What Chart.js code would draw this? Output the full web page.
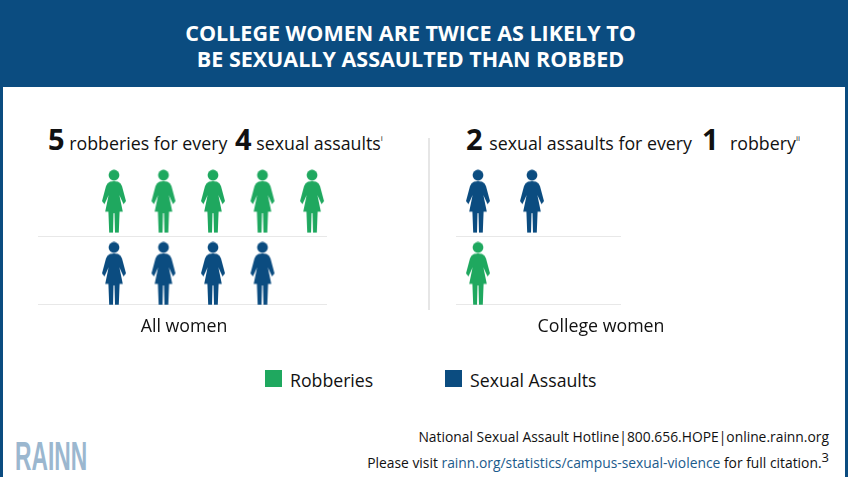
<!DOCTYPE html>
<html>
<head>
<meta charset="utf-8">
<script src="https://cdn.jsdelivr.net/npm/chart.js@4"></script>
<style>
  html, body { margin: 0; padding: 0; background: #fff; }
  #page { position: relative; width: 848px; height: 477px; overflow: hidden; font-family: "Open Sans", "Noto Sans", sans-serif; color: #111; }
  #page div, #page canvas { position: absolute; }
  .banner { left: 0; top: 0; width: 848px; height: 87px; background: #0b4c80; }
  .edge { top: 0; width: 3px; height: 477px; background: #0b4c80; }
  .title { width: 821px; left: 0; text-align: center; color: #fff; font-weight: 700; font-size: 21.5px; line-height: 28px; white-space: nowrap; }
  .head { font-size: 17.8px; line-height: 32px; white-space: nowrap; }
  .head b { font-size: 29px; font-weight: 700; }
  .head sup { font-size: 8px; line-height: 0; vertical-align: 9px; }
  .box { width: 17px; height: 17px; }
  .legend { font-size: 17.7px; line-height: 24px; white-space: nowrap; }
  .foot { font-size: 13.85px; line-height: 18px; white-space: nowrap; text-align: right; right: 19px; }
  .foot span { color: #1b5b8c; }
  .foot sup { font-size: 13px; line-height: 0; vertical-align: 6px; }
  .logo { left: 15px; top: 435px; color: #9bb7cf; font-family: "Liberation Sans", sans-serif; font-weight: 700; font-size: 40px; line-height: 42px; transform-origin: left top; transform: scaleX(0.57); }
  .divider { left: 428px; top: 138px; width: 1.5px; height: 172px; background: #e6e6e6; }
</style>
</head>
<body>
<div id="page">
  <div class="banner"></div>
  <div class="edge" style="left:0"></div>
  <div class="edge" style="right:0"></div>
  <div class="title" style="top:19px">COLLEGE WOMEN ARE TWICE AS LIKELY TO</div>
  <div class="title" style="top:45px">BE SEXUALLY ASSAULTED THAN ROBBED</div>

  <div class="head" style="left:48px;top:123px"><b>5</b> robberies for every</div>
  <div class="head" style="left:235px;top:123px"><b>4</b> sexual assaults<sup>i</sup></div>
  <div class="head" style="left:466px;top:123px"><b>2</b><span style="margin-left:2px"> sexual assaults for every</span></div>
  <div class="head" style="left:702px;top:123px"><b>1</b></div>
  <div class="head" style="left:730px;top:127px">robbery<sup>ii</sup></div>
  <div class="divider"></div>

  <canvas id="allChart" style="left:0;top:160px"></canvas>
  <canvas id="collegeChart" style="left:424px;top:160px"></canvas>

  <div class="box" style="left:265px;top:370px;background:#1fa85f"></div>
  <div class="legend" id="legendA" style="left:290px;top:368px"></div>
  <div class="box" style="left:445px;top:370px;background:#0b4c80"></div>
  <div class="legend" id="legendB" style="left:470px;top:368px"></div>

  <div class="logo">RAINN</div>
  <div class="foot" style="top:428px">National Sexual Assault Hotline|800.656.HOPE|online.rainn.org</div>
  <div class="foot" style="top:454px">Please visit <span>rainn.org/statistics/campus-sexual-violence</span> for full citation.<sup>3</sup></div>
</div>

<script>
const seriesNames = ["Robberies", "Sexual Assaults"];
const panelLabels = ["All women", "College women"];
const allWomenCounts = [5, 4];
const collegeWomenCounts = [1, 2];

const GREEN = "#1fa85f";
const BLUE = "#0b4c80";

document.getElementById("legendA").textContent = seriesNames[0];
document.getElementById("legendB").textContent = seriesNames[1];

// little woman icon, used as the point style
function makeFigure(color) {
    const c = document.createElement("canvas");
    c.width = 26;
    c.height = 64;
    const g = c.getContext("2d");
    g.fillStyle = color;
    g.beginPath();
    g.arc(13, 6, 5.4, 0, Math.PI * 2);
    g.fill();
    g.beginPath();
    g.moveTo(9, 12.5);
    g.quadraticCurveTo(13, 11.5, 17, 12.5);
    g.quadraticCurveTo(20, 13.5, 21, 17);
    g.lineTo(25, 32);
    g.lineTo(22.5, 35);
    g.lineTo(18.4, 26);
    g.lineTo(21.8, 42.5);
    g.lineTo(18.6, 42.5);
    g.lineTo(17.8, 63.5);
    g.lineTo(14, 63.5);
    g.lineTo(13.5, 44);
    g.lineTo(12.5, 44);
    g.lineTo(12, 63.5);
    g.lineTo(8.2, 63.5);
    g.lineTo(7.4, 42.5);
    g.lineTo(4.2, 42.5);
    g.lineTo(7.6, 26);
    g.lineTo(3.5, 35);
    g.lineTo(1, 32);
    g.lineTo(5, 17);
    g.quadraticCurveTo(6, 13.5, 9, 12.5);
    g.fill();
    return c;
}

// one figure per unit, placed in slot 1, 2, 3... of its row
function rowPoints(count, row) {
    const pts = [];
    for (let i = 1; i <= count; i++) {
        pts.push({ x: i, y: row });
    }
    return pts;
}

function drawPanel(id, opts) {
    const canvas = document.getElementById(id);
    new Chart(canvas, {
        type: "scatter",
        data: {
            datasets: [
                { label: seriesNames[0], data: rowPoints(opts.counts[0], opts.robberyRow), pointStyle: makeFigure(GREEN), clip: false },
                { label: seriesNames[1], data: rowPoints(opts.counts[1], opts.assaultRow), pointStyle: makeFigure(BLUE), clip: false }
            ]
        },
        options: {
            responsive: false,
            animation: false,
            layout: { padding: { left: opts.padLeft, right: opts.padRight, top: 4, bottom: 0 } },
            plugins: { legend: { display: false }, tooltip: { enabled: false } },
            scales: {
                x: {
                    type: "linear",
                    min: opts.xMin,
                    max: opts.xMax,
                    afterBuildTicks: axis => { axis.ticks = [{ value: opts.labelAt }]; },
                    afterFit: axis => { axis.height = 36; },
                    grid: { display: false },
                    border: { display: false },
                    ticks: {
                        autoSkip: false,
                        maxRotation: 0,
                        padding: 4,
                        color: "#111",
                        font: { family: "'Open Sans'", size: 17.8 },
                        callback: () => opts.label
                    }
                },
                y: {
                    type: "linear",
                    min: 0.577,
                    max: 2.5,
                    afterBuildTicks: axis => { axis.ticks = [{ value: 0.577 }, { value: 1.506 }]; },
                    afterFit: axis => { axis.width = 0; },
                    grid: { color: "#e8e8e8", lineWidth: 1, drawTicks: false },
                    border: { display: false },
                    ticks: { display: false }
                }
            }
        }
    });
}

const leftCanvas = document.getElementById("allChart");
leftCanvas.width = 424;
leftCanvas.height = 180;
const rightCanvas = document.getElementById("collegeChart");
rightCanvas.width = 420;
rightCanvas.height = 180;

drawPanel("allChart", {
    counts: allWomenCounts, robberyRow: 2, assaultRow: 1, label: panelLabels[0],
    xMin: -0.535, xMax: 5.303, labelAt: 2.415, padLeft: 38, padRight: 97
});
drawPanel("collegeChart", {
    counts: collegeWomenCounts, robberyRow: 1, assaultRow: 2, label: panelLabels[1],
    xMin: 0.593, xMax: 3.648, labelAt: 3.278, padLeft: 32, padRight: 223
});
</script>
</body>
</html>
